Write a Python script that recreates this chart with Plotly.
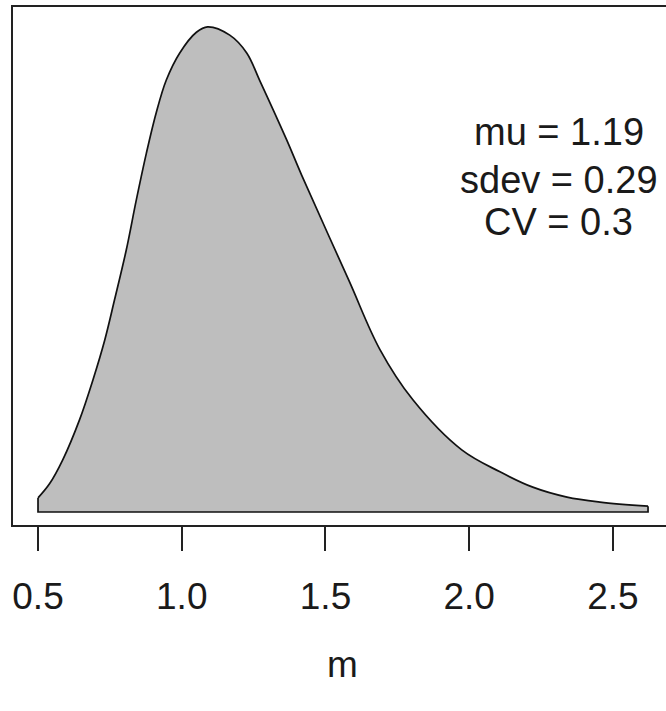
import plotly.graph_objects as go

# values
m_values = [0.500, 0.540, 0.586, 0.644, 0.691, 0.732, 0.766, 0.807, 0.842, 0.877,
            0.911, 0.946, 0.993, 1.051, 1.090, 1.167, 1.226, 1.271, 1.365, 1.417,
            1.581, 1.689, 1.804, 1.974, 2.107, 2.221, 2.340, 2.455, 2.622]
density = [0.034, 0.068, 0.126, 0.222, 0.319, 0.415, 0.512, 0.633, 0.754, 0.867,
           0.964, 1.043, 1.109, 1.159, 1.172, 1.152, 1.109, 1.043, 0.899, 0.814,
           0.560, 0.393, 0.271, 0.150, 0.097, 0.060, 0.036, 0.024, 0.014]
tick_vals = [0.5, 1.0, 1.5, 2.0, 2.5]
tick_text = ["0.5", "1.0", "1.5", "2.0", "2.5"]
stat_labels = ["mu = 1.19", "sdev = 0.29", "CV = 0.3"]
x_title = "m"

FONT = "Liberation Sans, Arial, sans-serif"

fig = go.Figure()
fig.add_trace(go.Scatter(
    x=m_values, y=density, mode="lines", fill="tozeroy",
    fillcolor="#bebebe", line=dict(color="#111111", width=1.7, shape="spline"),
    hoverinfo="skip", showlegend=False))
# baseline and vertical closing edges of the polygon
fig.add_trace(go.Scatter(
    x=[m_values[0], m_values[0], m_values[-1], m_values[-1]],
    y=[density[0], 0, 0, density[-1]], mode="lines",
    line=dict(color="#111111", width=1.7), hoverinfo="skip", showlegend=False))

stat_y = [0.759, 0.666, 0.585]
for txt, yy in zip(stat_labels, stat_y):
    fig.add_annotation(text=txt, xref="paper", yref="paper", x=0.836, y=yy,
                       xanchor="center", yanchor="middle", showarrow=False,
                       font=dict(family=FONT, size=38, color="#1a1a1a"))

fig.add_annotation(text=x_title, xref="paper", yref="paper", x=0.505, y=-0.270,
                   xanchor="center", yanchor="middle", showarrow=False,
                   font=dict(family=FONT, size=37, color="#1a1a1a"))

fig.update_layout(
    width=666, height=711,
    margin=dict(l=13, r=0, t=7, b=186),
    paper_bgcolor="white", plot_bgcolor="white",
    font=dict(family=FONT, size=37, color="#1a1a1a"),
    xaxis=dict(range=[0.413, 2.6845], tickmode="array", tickvals=tick_vals,
               ticktext=tick_text, ticks="outside", ticklen=24, tickwidth=1.5,
               tickcolor="#222222", showline=True, mirror=True, linecolor="#222222",
               linewidth=1.5, showgrid=False, zeroline=False, ticklabelstandoff=14,
               tickfont=dict(family=FONT, size=37, color="#1a1a1a")),
    yaxis=dict(range=[-0.0314, 1.220], showticklabels=False, ticks="",
               showline=True, mirror=False, linecolor="#222222", linewidth=1.5,
               showgrid=False, zeroline=False),
)

fig.write_html(
    "out.html",
    config={"displayModeBar": False},
    post_script="document.body.style.margin='0';document.body.style.overflow='hidden';"
                "document.documentElement.style.overflow='hidden';")
